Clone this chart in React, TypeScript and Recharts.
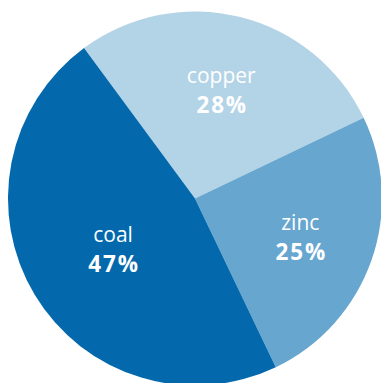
import React from "react";
import { PieChart, Pie, Cell } from "recharts";

const categories = ["copper", "zinc", "coal"];
const shares = [28, 25, 47];
const colors = ["#b3d3e6", "#67a6cf", "#0369ac"];
const labelNudges = [
  [0, 5],
  [3, 10],
  [11, 3],
];

const data = categories.map((name, i) => ({ name, value: shares[i] }));

const RADIAN = Math.PI / 180;

const renderLabel = (props: any) => {
  const { cx, cy, midAngle, outerRadius, index, name, value } = props;
  const r = outerRadius * 0.58;
  const [nx, ny] = labelNudges[index] || [0, 0];
  const x = cx + r * Math.cos(-midAngle * RADIAN) + nx;
  const y = cy + r * Math.sin(-midAngle * RADIAN) + ny;
  return (
    <g>
      <text
        x={x}
        y={y - 15}
        textAnchor="middle"
        fill="#ffffff"
        fontFamily="'Open Sans', sans-serif"
        fontSize={21}
      >
        {name}
      </text>
      <text
        x={x + 1}
        y={y + 15}
        textAnchor="middle"
        fill="#ffffff"
        fontFamily="'Open Sans', sans-serif"
        fontSize={22.5}
        fontWeight={700}
        letterSpacing={1.8}
      >
        {`${value}%`}
      </text>
    </g>
  );
};

export default function App() {
  return (
    <div style={{ position: "absolute", left: 0, top: 0, width: 381, height: 383, background: "#fff" }}>
      <PieChart width={381} height={383} margin={{ top: 0, right: 0, bottom: 0, left: 0 }}>
        <Pie
          data={data}
          dataKey="value"
          nameKey="name"
          cx={195}
          cy={198.5}
          outerRadius={187}
          startAngle={126.4}
          endAngle={-233.6}
          stroke="none"
          label={renderLabel}
          labelLine={false}
          isAnimationActive={false}
        >
          {data.map((d, i) => (
            <Cell key={d.name} fill={colors[i]} />
          ))}
        </Pie>
      </PieChart>
    </div>
  );
}
